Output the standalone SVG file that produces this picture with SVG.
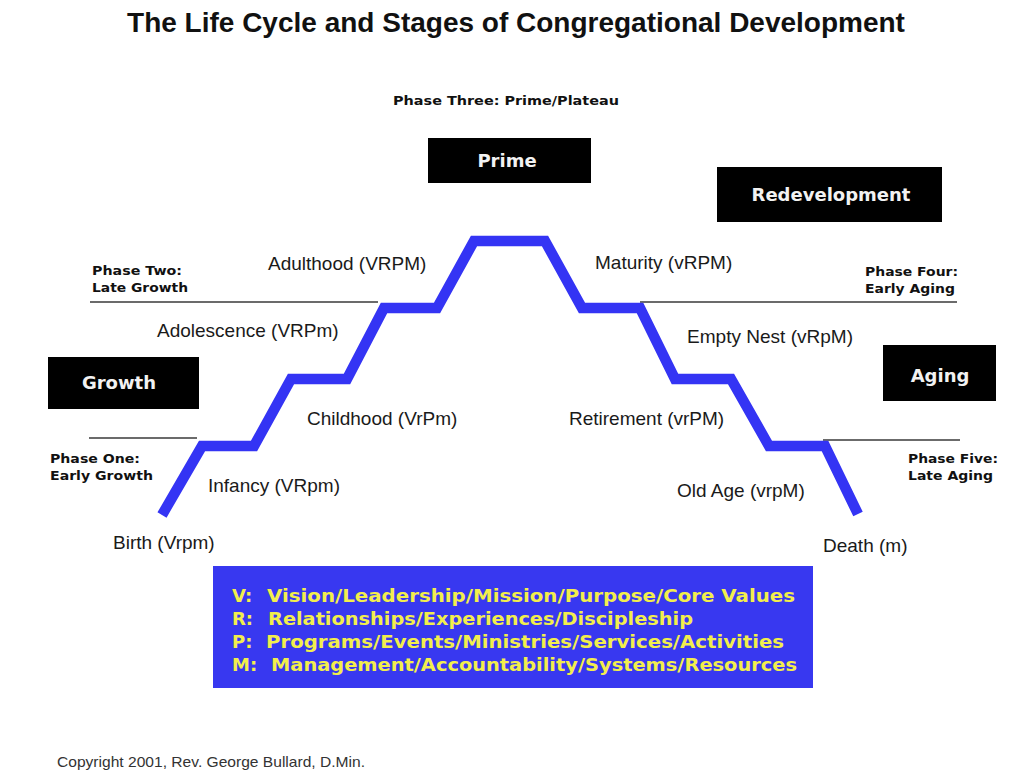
<svg xmlns="http://www.w3.org/2000/svg" width="1026" height="772" viewBox="0 0 1026 772">
<style>
.title{font-family:"Liberation Sans",Arial,sans-serif;font-weight:bold;font-size:28px;fill:#111}
.phase{font-family:"DejaVu Sans",Verdana,sans-serif;font-weight:bold;font-size:13px;fill:#111}
.stage{font-family:"Liberation Sans",Arial,sans-serif;font-size:19px;fill:#1a1a1a}
.boxlbl{font-family:"DejaVu Sans",Verdana,sans-serif;font-weight:bold;font-size:18px;fill:#f2f2f2;text-anchor:middle}
.key{font-family:"DejaVu Sans",Verdana,sans-serif;font-weight:bold;font-size:18px;fill:#f2ee4c}
.copy{font-family:"Liberation Sans",Arial,sans-serif;font-size:15px;fill:#333}
.rule{stroke:#3a3a3a;stroke-width:1.5;fill:none}
.stair{stroke:#3434f4;stroke-width:10.5;fill:none;stroke-linejoin:miter;stroke-linecap:butt}
.blk{fill:#000}
</style>
<rect x="0" y="0" width="1026" height="772" fill="#fff"/>

<text class="title" x="516" y="32" text-anchor="middle">The Life Cycle and Stages of Congregational Development</text>

<g id="connectors">
  <line class="rule" x1="90" y1="302" x2="378" y2="302"/>
  <line class="rule" x1="89" y1="438" x2="197" y2="438"/>
  <line class="rule" x1="640" y1="302" x2="957" y2="302"/>
  <line class="rule" x1="823" y1="440" x2="960" y2="440"/>
  <polyline class="stair" points="162,515 202,446 254,446 291,379 347,379 384,308 437,308 474,241 545,241 582,308 640,308 675,379 731,379 769,446 825,446 858,514"/>
</g>

<g id="phase-three"><text class="phase" x="393" y="105" textLength="226" lengthAdjust="spacingAndGlyphs">Phase Three: Prime/Plateau</text></g>
<g id="phase-two">
  <text class="phase" x="92" y="275" textLength="90" lengthAdjust="spacingAndGlyphs">Phase Two:</text>
  <text class="phase" x="92" y="292" textLength="96" lengthAdjust="spacingAndGlyphs">Late Growth</text>
</g>
<g id="phase-one">
  <text class="phase" x="50" y="463" textLength="90" lengthAdjust="spacingAndGlyphs">Phase One:</text>
  <text class="phase" x="50" y="480" textLength="103" lengthAdjust="spacingAndGlyphs">Early Growth</text>
</g>
<g id="phase-four">
  <text class="phase" x="865" y="276" textLength="93" lengthAdjust="spacingAndGlyphs">Phase Four:</text>
  <text class="phase" x="865" y="293" textLength="90" lengthAdjust="spacingAndGlyphs">Early Aging</text>
</g>
<g id="phase-five">
  <text class="phase" x="908" y="463" textLength="90" lengthAdjust="spacingAndGlyphs">Phase Five:</text>
  <text class="phase" x="908" y="480" textLength="85" lengthAdjust="spacingAndGlyphs">Late Aging</text>
</g>

<g id="prime"><rect class="blk" x="428" y="138" width="163" height="45"/><text class="boxlbl" x="507" y="167">Prime</text></g>
<g id="redevelopment"><rect class="blk" x="717" y="167" width="225" height="55"/><text class="boxlbl" x="831" y="201">Redevelopment</text></g>
<g id="growth"><rect class="blk" x="48" y="357" width="151" height="52"/><text class="boxlbl" x="119" y="389">Growth</text></g>
<g id="aging"><rect class="blk" x="883" y="345" width="113" height="56"/><text class="boxlbl" x="940" y="382">Aging</text></g>

<g id="stage-birth"><text class="stage" x="113" y="549">Birth (Vrpm)</text></g>
<g id="stage-infancy"><text class="stage" x="208" y="492">Infancy (VRpm)</text></g>
<g id="stage-childhood"><text class="stage" x="307" y="425">Childhood (VrPm)</text></g>
<g id="stage-adolescence"><text class="stage" x="157" y="337">Adolescence (VRPm)</text></g>
<g id="stage-adulthood"><text class="stage" x="268" y="270">Adulthood (VRPM)</text></g>
<g id="stage-maturity"><text class="stage" x="595" y="269">Maturity (vRPM)</text></g>
<g id="stage-emptynest"><text class="stage" x="687" y="343" textLength="166" lengthAdjust="spacingAndGlyphs">Empty Nest (vRpM)</text></g>
<g id="stage-retirement"><text class="stage" x="569" y="425">Retirement (vrPM)</text></g>
<g id="stage-oldage"><text class="stage" x="677" y="497">Old Age (vrpM)</text></g>
<g id="stage-death"><text class="stage" x="823" y="552">Death (m)</text></g>

<g id="legend">
  <rect x="213" y="566" width="600" height="122" fill="#3838f0"/>
  <text class="key" x="232" y="602">V:</text>
  <text class="key" x="267" y="602" textLength="528" lengthAdjust="spacingAndGlyphs">Vision/Leadership/Mission/Purpose/Core Values</text>
  <text class="key" x="232" y="625">R:</text>
  <text class="key" x="268" y="625" textLength="425" lengthAdjust="spacingAndGlyphs">Relationships/Experiences/Discipleship</text>
  <text class="key" x="232" y="648">P:</text>
  <text class="key" x="266" y="648" textLength="518" lengthAdjust="spacingAndGlyphs">Programs/Events/Ministries/Services/Activities</text>
  <text class="key" x="232" y="671">M:</text>
  <text class="key" x="271" y="671" textLength="526" lengthAdjust="spacingAndGlyphs">Management/Accountability/Systems/Resources</text>
</g>

<text class="copy" x="57" y="767" textLength="308" lengthAdjust="spacingAndGlyphs">Copyright 2001, Rev. George Bullard, D.Min.</text>
</svg>
